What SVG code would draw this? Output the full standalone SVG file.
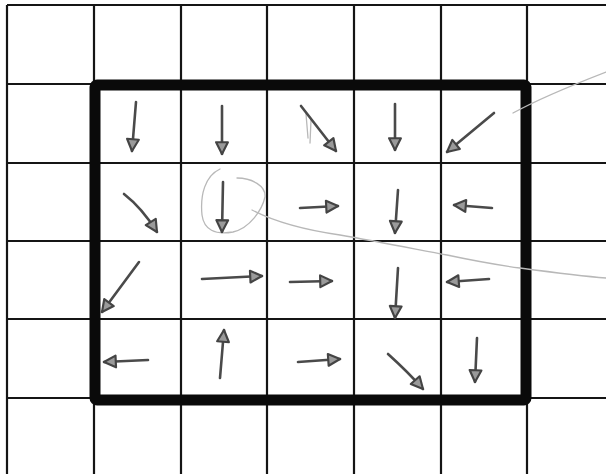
<svg xmlns="http://www.w3.org/2000/svg" width="606" height="474" viewBox="0 0 606 474">
<style>
.grid{stroke:#151515;stroke-width:2.2;fill:none}
.border{stroke:#0a0a0a;stroke-width:11;fill:none;stroke-linejoin:round}
.arr{stroke:#4a4a4a;stroke-width:2.6;fill:none;stroke-linecap:round;marker-end:url(#head)}
.faint{stroke:#b8b8b8;stroke-width:1.3;fill:none;stroke-linecap:round}
</style>
<defs>
<marker id="head" viewBox="0 0 14 14" refX="12.5" refY="7" markerWidth="15" markerHeight="15" markerUnits="userSpaceOnUse" orient="auto">
<path d="M1.5,1.5 L12.5,7 L1.5,12.5 Z" fill="#9a9a9a" stroke="#444" stroke-width="2" stroke-linejoin="round"/>
</marker>
</defs>
<rect width="606" height="474" fill="#fff"/>
<g id="grid">
<path class="grid" d="M7,5 V474 M94,5 V474 M181,5 V474 M267,5 V474 M354,5 V474 M441,5 V474 M527,5 V474"/>
<path class="grid" d="M7,5 H606 M7,84 H606 M7,163 H606 M7,241 H606 M7,319 H606 M7,398 H606"/>
</g>
<g id="region">
<rect class="border" x="95" y="85" width="431" height="315" rx="2"/>
</g>
<g id="faint-marks">
<path class="faint" d="M513,113 C540,98 575,84 606,72"/>
<path class="faint" d="M220,169 C205,176 200,195 202,215 C204,230 215,235 233,232 C250,228 262,210 265,197 C266,186 252,178 237,178"/>
<path class="faint" d="M252,210 C275,222 305,230 340,235 C380,242 420,250 447,255 C480,262 505,266 520,268 C550,272 580,276 606,278"/>
<path class="faint" d="M306,114 L308,138 M311,120 L310,143" stroke="#e0e0e0"/>
</g>
<g id="arrows">
<path class="arr" d="M136,102 L132,151"/>
<path class="arr" d="M222,106 L222,154"/>
<path class="arr" d="M301,106 L336,151"/>
<path class="arr" d="M395,104 L395,150"/>
<path class="arr" d="M494,113 L447,152"/>
<path class="arr" d="M124,194 Q142,208 157,232"/>
<path class="arr" d="M223,182 L222,232"/>
<path class="arr" d="M300,208 L338,206"/>
<path class="arr" d="M398,190 L395,233"/>
<path class="arr" d="M492,208 L454,205"/>
<path class="arr" d="M139,262 L102,312"/>
<path class="arr" d="M202,279 L262,276"/>
<path class="arr" d="M290,282 L332,281"/>
<path class="arr" d="M398,268 L395,318"/>
<path class="arr" d="M489,279 L447,282"/>
<path class="arr" d="M148,360 L104,362"/>
<path class="arr" d="M220,378 L224,330"/>
<path class="arr" d="M298,362 L340,359"/>
<path class="arr" d="M388,354 Q408,372 423,389"/>
<path class="arr" d="M477,338 L475,382"/>
</g>
</svg>
